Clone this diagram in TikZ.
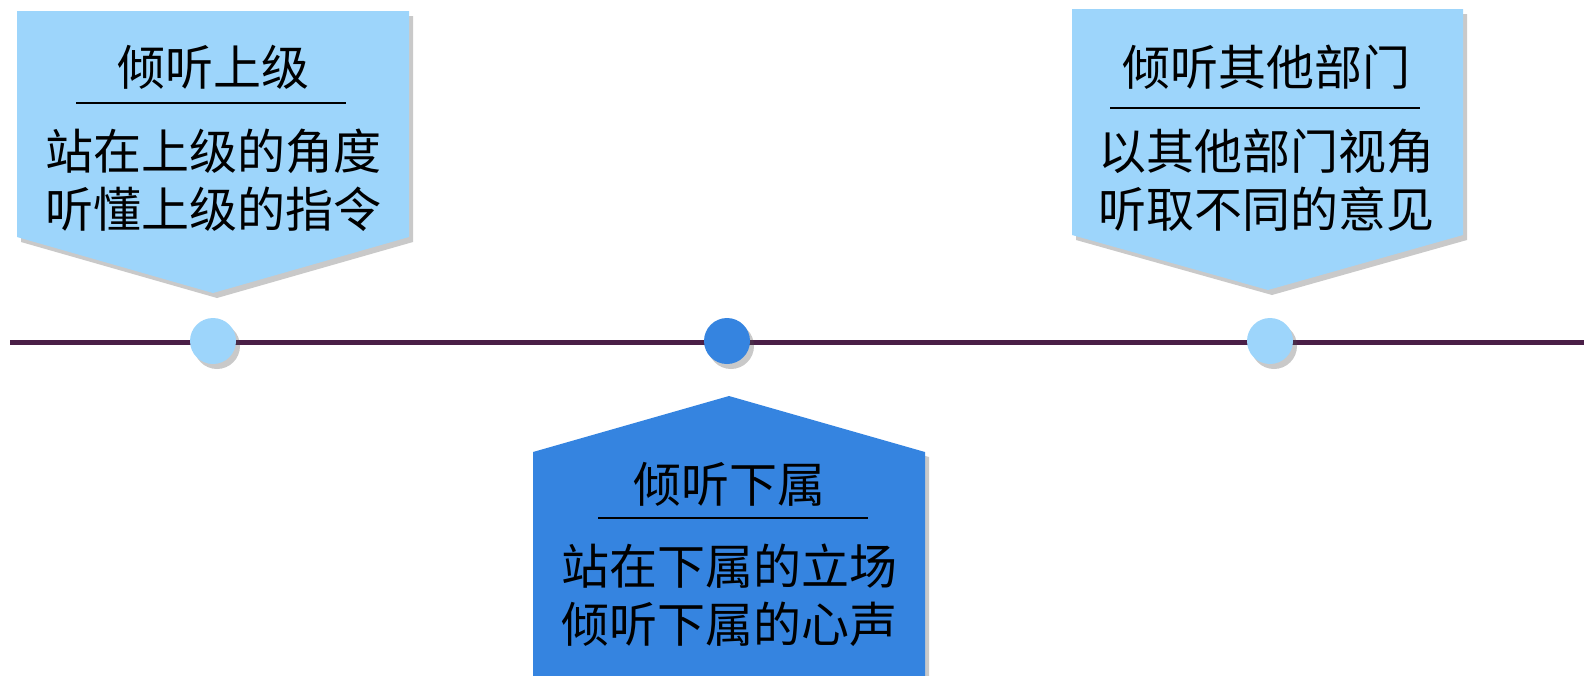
\documentclass[tikz,border=0pt]{standalone}
\usepackage{fontspec}
\newfontfamily\cjk{Noto Sans CJK SC}
\usetikzlibrary{shadows}
\definecolor{lightblue}{HTML}{9DD5FB}
\definecolor{midblue}{HTML}{3584E0}
\definecolor{linepurple}{HTML}{4A1F47}
\begin{document}
\begin{tikzpicture}[x=1pt,y=-1pt,
  card/.style={drop shadow={shadow xshift=4pt,shadow yshift=-5pt,opacity=0.3,fill=black!70}},
  titletext/.style={font=\cjk\fontsize{48}{54}\selectfont, inner sep=0pt, text=black},
  bodytext/.style={font=\cjk\fontsize{48}{58}\selectfont, align=center, inner sep=0pt, text=black},
  rulestyle/.style={line width=2.8pt, black},
  dotstyle/.style={circle, minimum size=46pt, inner sep=0pt, drop shadow={shadow xshift=4pt,shadow yshift=-5pt,opacity=0.3,fill=black!70}}]
\useasboundingbox (0,0) rectangle (1584,675);
% timeline
\coordinate (lineL) at (10,342);
\coordinate (lineR) at (1584,342);
\draw[linepurple, line width=5pt] (lineL) -- (lineR);
% dots
\node[dotstyle, fill=lightblue] (d1) at (213,341) {};
\node[dotstyle, fill=midblue] (d2) at (727,341) {};
\node[dotstyle, fill=lightblue] (d3) at (1270,341) {};
% left card
\path[fill=lightblue, card] (17,11) -- (409,11) -- (409,237) -- (213,293) -- (17,237) -- cycle;
\node[titletext] (t1) at (213,67) {倾听上级};
\coordinate (u1a) at (76,103);
\coordinate (u1b) at (346,103);
\draw[rulestyle] (u1a) -- (u1b);
\node[bodytext] (b1) at (213,180) {站在上级的角度\\听懂上级的指令};
% right card
\path[fill=lightblue, card] (1072,9) -- (1463,9) -- (1463,235) -- (1268,290) -- (1072,235) -- cycle;
\node[titletext] (t3) at (1266,67) {倾听其他部门};
\coordinate (u3a) at (1110,108);
\coordinate (u3b) at (1420,108);
\draw[rulestyle] (u3a) -- (u3b);
\node[bodytext] (b3) at (1266,180) {以其他部门视角\\听取不同的意见};
% middle card
\path[fill=midblue, card] (533,452) -- (729,396) -- (925,452) -- (925,680) -- (533,680) -- cycle;
\node[titletext] (t2) at (729,484) {倾听下属};
\coordinate (u2a) at (598,518);
\coordinate (u2b) at (868,518);
\draw[rulestyle] (u2a) -- (u2b);
\node[bodytext] (b2) at (729,595) {站在下属的立场\\倾听下属的心声};
\end{tikzpicture}
\end{document}
